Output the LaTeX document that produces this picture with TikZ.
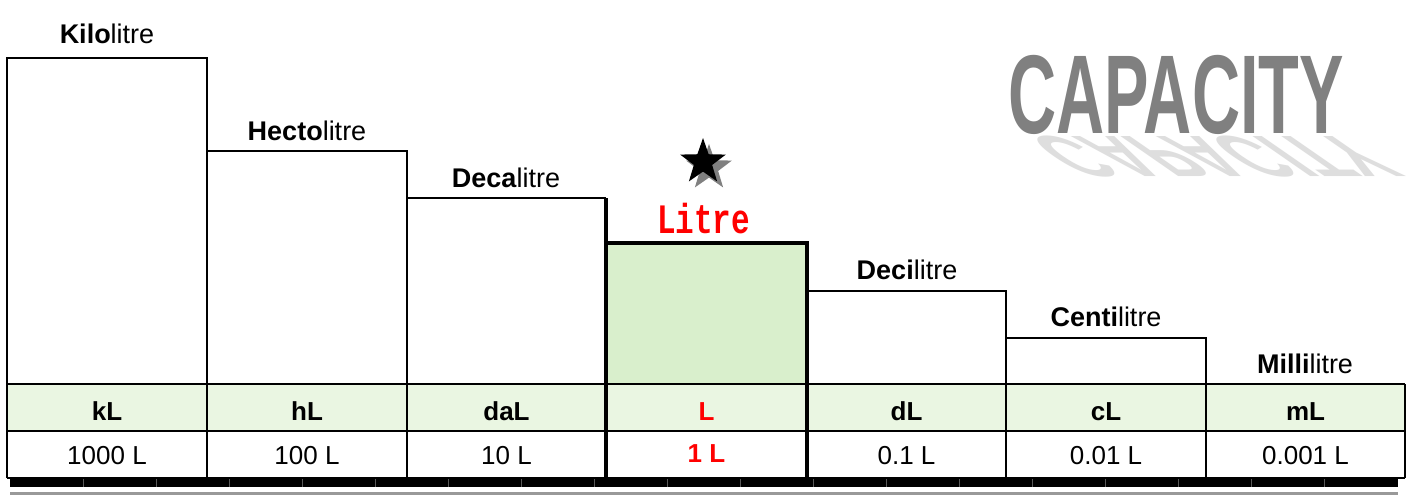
\documentclass[tikz,border=0pt]{standalone}
\usepackage{fontspec}
\setmainfont{Liberation Sans}
\newfontfamily\monofnt{Liberation Mono}
\usetikzlibrary{shapes.geometric}
\definecolor{rowgreen}{RGB}{234,246,226}
\definecolor{boxgreen}{RGB}{217,239,204}
\definecolor{capgrey}{RGB}{128,128,128}
\definecolor{shadowgrey}{RGB}{222,222,222}
\definecolor{litred}{RGB}{255,0,0}
\begin{document}
\begin{tikzpicture}[x=1pt,y=-1pt,
  thinline/.style={line width=1.2pt, black},
  thickline/.style={line width=4.5pt, black},
  lbl/.style={anchor=base, inner sep=0pt, font=\fontsize{27}{30}\selectfont},
  unitlbl/.style={anchor=base, inner sep=0pt, font=\fontsize{26}{30}\selectfont\bfseries},
  vallbl/.style={anchor=base, inner sep=0pt, font=\fontsize{26}{30}\selectfont},
  starshape/.style={star, star points=5, star point ratio=2.5, minimum size=48pt, inner sep=0pt},
  capfont/.style={inner sep=0pt, font=\bfseries\fontsize{112}{112}\selectfont},
]
\useasboundingbox (0,0) rectangle (1413,496);
\fill[white] (0,0) rectangle (1413,496);
% fills
\fill[rowgreen] (7,384) rectangle (1405,431);
\fill[boxgreen] (606,243) rectangle (807,384);
% bottom bar
\fill[black] (10,478) rectangle (1398,487);
\foreach \k in {1,...,18} \draw[black!65, line width=0.8pt] ({10+73*\k},478) -- ({10+73*\k},487);
\draw[black!40, line width=3pt] (10,493.5) -- (1398,493.5);
% steps
\draw[thinline] (7,478) -- (7,58) -- (207,58) -- (207,478);
\draw[thinline] (207,151) -- (407,151) -- (407,478);
\draw[thinline] (407,198) -- (606,198);
\draw[thinline] (807,291) -- (1006,291) -- (1006,478);
\draw[thinline] (1006,338) -- (1206,338) -- (1206,478);
% table
\draw[thinline] (7,384) -- (1405,384);
\draw[thinline] (7,431) -- (1405,431);
\draw[thinline] (7,478) -- (1405,478);
\draw[thinline] (1405,384) -- (1405,478);
% litre box
\draw[thickline] (606,198) -- (606,478);
\draw[thickline] (603.75,243) -- (807,243) -- (807,478);
% labels
\node[lbl] (kilo) at (107,43) {\textbf{Kilo}litre};
\node[lbl] (hecto) at (307,140) {\textbf{Hecto}litre};
\node[lbl] (deca) at (506,187) {\textbf{Deca}litre};
\node[lbl] (deci) at (907,279) {\textbf{Deci}litre};
\node[lbl] (centi) at (1106,326) {\textbf{Centi}litre};
\node[lbl] (milli) at (1305,373) {\textbf{Milli}litre};
\node[anchor=base, inner sep=0pt, text=litred, font=\monofnt\bfseries\fontsize{31}{31}\selectfont] (litre) at (703.5,233) {\scalebox{1}[1.35]{Litre}};
% star
\node[starshape, fill=black!50] (starshadow) at (709,168) {};
\node[starshape, fill=black] (starmain) at (703,162) {};
% units
\node[unitlbl] (ukl) at (107,420) {kL};
\node[unitlbl] (uhl) at (307,420) {hL};
\node[unitlbl] (udal) at (506.5,420) {daL};
\node[unitlbl, text=litred] (ul) at (706.5,420) {L};
\node[unitlbl] (udl) at (906.5,420) {dL};
\node[unitlbl] (ucl) at (1106,420) {cL};
\node[unitlbl] (uml) at (1305.5,420) {mL};
% values
\node[vallbl] (vkl) at (107,464) {1000 L};
\node[vallbl] (vhl) at (307,464) {100 L};
\node[vallbl] (vdal) at (506.5,464) {10 L};
\node[vallbl, text=litred, font=\fontsize{26}{30}\selectfont\bfseries] (vl) at (706.5,462) {1 L};
\node[vallbl] (vdl) at (906.5,464) {0.1 L};
\node[vallbl] (vcl) at (1106,464) {0.01 L};
\node[vallbl] (vml) at (1305.5,464) {0.001 L};
% CAPACITY logo
\begin{scope}[shift={(1022,136)}]
\node[capfont, anchor=base west, text=shadowgrey, cm={1,0,0.75,-0.52,(0,0)}] (capshadow) at (0,0) {\scalebox{0.58}[1]{CAPACITY}};
\end{scope}
\node[capfont, anchor=base west, text=capgrey] (captitle) at (1008,133) {\scalebox{0.595}[1]{CAPACITY}};
\end{tikzpicture}
\end{document}
